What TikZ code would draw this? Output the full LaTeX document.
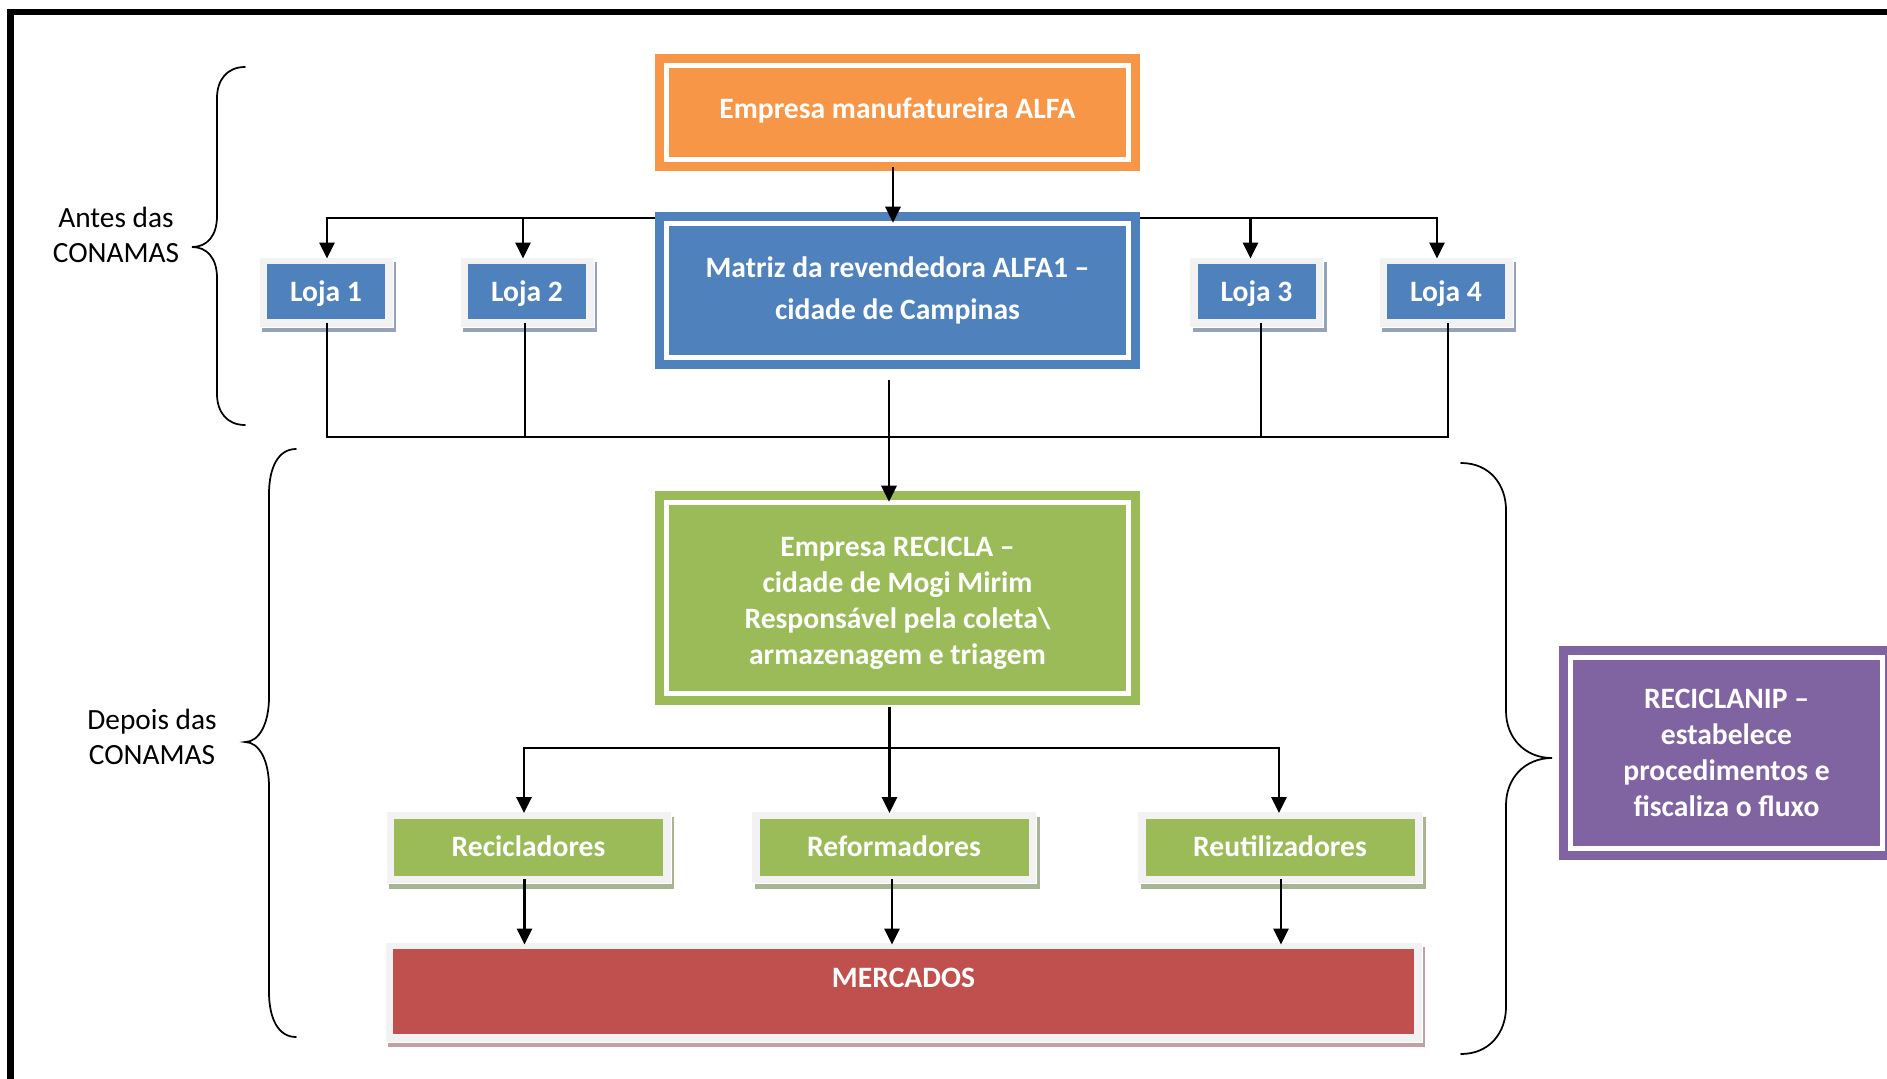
\documentclass[tikz,border=0pt]{standalone}
\usepackage{fontspec}
\setmainfont{Carlito}
\usetikzlibrary{arrows.meta}
\definecolor{cOrange}{HTML}{F79646}
\definecolor{cBlue}{HTML}{4F81BD}
\definecolor{cGreen}{HTML}{9BBB59}
\definecolor{cPurple}{HTML}{8064A2}
\definecolor{cRed}{HTML}{C0504D}
\definecolor{cFrame}{HTML}{F2F2F2}
\definecolor{cBlueSh}{HTML}{95A3B8}
\definecolor{cGreenSh}{HTML}{A8B595}
\definecolor{cRedSh}{HTML}{C29FA3}

\begin{document}
\begin{tikzpicture}[x=0.75pt,y=-0.75pt,
  boxtext/.style={text=white, font=\fontsize{22.2pt}{27pt}\selectfont\bfseries, align=center, inner sep=0pt},
  bigbox/.style={boxtext, fill=#1,
    path picture={\draw[white,line width=3.75pt]
      ([xshift=8.4pt,yshift=8.4pt]path picture bounding box.south west) rectangle
      ([xshift=-8.4pt,yshift=-8.4pt]path picture bounding box.north east);}},
  smallbox/.style 2 args={boxtext, fill=cFrame, draw=white, line width=0.75pt,
    preaction={fill=#2, draw=none, transform canvas={xshift=2.25pt,yshift=-3.75pt}},
    path picture={\fill[#1]
      ([xshift=6pt,yshift=6pt]path picture bounding box.south west) rectangle
      ([xshift=-6pt,yshift=-5.25pt]path picture bounding box.north east);}},
  oneline/.style={text height=14pt, text depth=0pt},
  arr/.style={line width=1.6pt, -{Triangle[length=12pt,width=11.5pt]}},
  wire/.style={line width=1.1pt},
  brace/.style={line width=1.3pt, line cap=round},
  side/.style={font=\fontsize{22pt}{26.25pt}\selectfont, align=center, inner sep=0pt}]

\useasboundingbox (0,0) rectangle (1887,1078);
\fill[white] (0,0) rectangle (1887,1078);

% outer frame (left and top edges)
\draw[line width=4.9pt] (10.7,1100) -- (10.7,12) -- (1900,12);

% main boxes
\node[bigbox=cOrange, oneline, text depth=5.2pt, minimum width=363.75pt, minimum height=87.75pt]
  (alfa) at (897.5,112.5) {Empresa manufatureira ALFA};
\node[bigbox=cBlue, font=\fontsize{22.2pt}{31pt}\selectfont\bfseries, minimum width=363.75pt, minimum height=117.75pt]
  (matriz) at (897.5,290.5) {Matriz da revendedora ALFA1 –\\cidade de Campinas};
\node[bigbox=cGreen, minimum width=363.75pt, minimum height=160.5pt]
  (recicla) at (897.5,598) {\rule{0pt}{23pt}Empresa RECICLA –\\cidade de Mogi Mirim\\Responsável pela coleta\textbackslash\\armazenagem e triagem};
\node[bigbox=cPurple, minimum width=251.25pt, minimum height=160.5pt]
  (nip) at (1726.5,753) {RECICLANIP –\\estabelece\\procedimentos e\\fiscaliza o fluxo};

% stores
\node[smallbox={cBlue}{cBlueSh}, oneline, minimum width=100.5pt, minimum height=52.5pt] (l1) at (326,292) {Loja 1};
\node[smallbox={cBlue}{cBlueSh}, oneline, minimum width=100.5pt, minimum height=52.5pt] (l2) at (527,292) {Loja 2};
\node[smallbox={cBlue}{cBlueSh}, oneline, minimum width=100.5pt, minimum height=52.5pt] (l3) at (1256.5,292) {Loja 3};
\node[smallbox={cBlue}{cBlueSh}, oneline, minimum width=100.5pt, minimum height=52.5pt] (l4) at (1446,292) {Loja 4};

% destinations
\node[smallbox={cGreen}{cGreenSh}, oneline, minimum width=213.75pt, minimum height=54pt] (rec) at (528.5,847.5) {Recicladores};
\node[smallbox={cGreen}{cGreenSh}, oneline, minimum width=213.75pt, minimum height=54pt] (ref) at (894,847.5) {Reformadores};
\node[smallbox={cGreen}{cGreenSh}, oneline, minimum width=213.75pt, minimum height=54pt] (reu) at (1280,847.5) {Reutilizadores};
\node[smallbox={cRed}{cRedSh}, oneline, text depth=21pt, minimum width=777.75pt, minimum height=75pt] (merc) at (903.5,992) {MERCADOS};

% side labels
\node[side] (antes) at (116,235) {Antes das\\CONAMAS};
\node[side] (depois) at (152,737) {Depois das\\CONAMAS};

% braces
\draw[brace] (245,67) .. controls (227,67) and (217,80) .. (217,98) -- (217,216)
  .. controls (217,236) and (207,247) .. (192,247)
  .. controls (207,247) and (217,258) .. (217,278) -- (217,394)
  .. controls (217,412) and (227,425) .. (245,425);
\draw[brace] (296,449) .. controls (278,449) and (269,468) .. (269,494) -- (269,697)
  .. controls (269,724) and (259,742) .. (245,742)
  .. controls (259,742) and (269,760) .. (269,787) -- (269,992)
  .. controls (269,1018) and (278,1037) .. (296,1037);
\draw[brace] (1461,463) .. controls (1490,463) and (1506,485) .. (1506,510) -- (1506,711)
  .. controls (1506,738) and (1525,758) .. (1552,758)
  .. controls (1525,758) and (1506,778) .. (1506,805) -- (1506,1007)
  .. controls (1506,1032) and (1490,1054) .. (1461,1054);

% manufacturer to head office
\draw[arr] ([shift={(-4.5,-4)}]alfa.south) -- ([shift={(-4.5,11)}]matriz.north);

% head office to stores
\coordinate (busL) at ([shift={(0,6)}]matriz.north west);
\coordinate (busR) at ([shift={(0,6)}]matriz.north east);
\coordinate (t1) at ([shift={(1,2)}]l1.north);
\coordinate (t2) at ([shift={(-4,2)}]l2.north);
\coordinate (t3) at ([shift={(-6,2)}]l3.north);
\coordinate (t4) at ([shift={(-9,2)}]l4.north);
\draw[arr] (busL) -| (t1);
\draw[arr] (t2 |- busL) -- (t2);
\draw[arr] (busR) -| (t4);
\draw[arr] (t3 |- busR) -- (t3);

% stores to collection line
\coordinate (bus2) at (0,437);
\coordinate (b1) at ([shift={(1,-5)}]l1.south);
\coordinate (b2) at ([shift={(-2,-5)}]l2.south);
\coordinate (b3) at ([shift={(4.5,-5)}]l3.south);
\coordinate (b4) at ([shift={(2,-5)}]l4.south);
\draw[wire] (b1) |- (b4 |- bus2) -- (b4);
\draw[wire] (b2) -- (b2 |- bus2);
\draw[wire] (b3) -- (b3 |- bus2);

% head office to recycling company
\draw[arr] ([shift={(-8.5,11)}]matriz.south) -- ([shift={(-8.5,11)}]recicla.north);

% recycling company to destinations
\coordinate (g0) at ([shift={(-8,2)}]recicla.south);
\coordinate (bus3) at (0,748);
\coordinate (r1) at ([shift={(-4.5,2)}]rec.north);
\coordinate (r2) at ([shift={(-4,2)}]ref.north);
\coordinate (r3) at ([shift={(-1,2)}]reu.north);
\draw[arr] (g0) -- (g0 |- r2);
\draw[arr] (g0 |- bus3) -| (r1);
\draw[arr] (g0 |- bus3) -| (r3);

% destinations to markets
\coordinate (m0) at ([shift={(0,3)}]merc.north);
\coordinate (s1) at ([shift={(-4,-5)}]rec.south);
\coordinate (s2) at ([shift={(-2,-5)}]ref.south);
\coordinate (s3) at ([shift={(1,-5)}]reu.south);
\draw[arr] (s1) -- (s1 |- m0);
\draw[arr] (s2) -- (s2 |- m0);
\draw[arr] (s3) -- (s3 |- m0);
\end{tikzpicture}
\end{document}
